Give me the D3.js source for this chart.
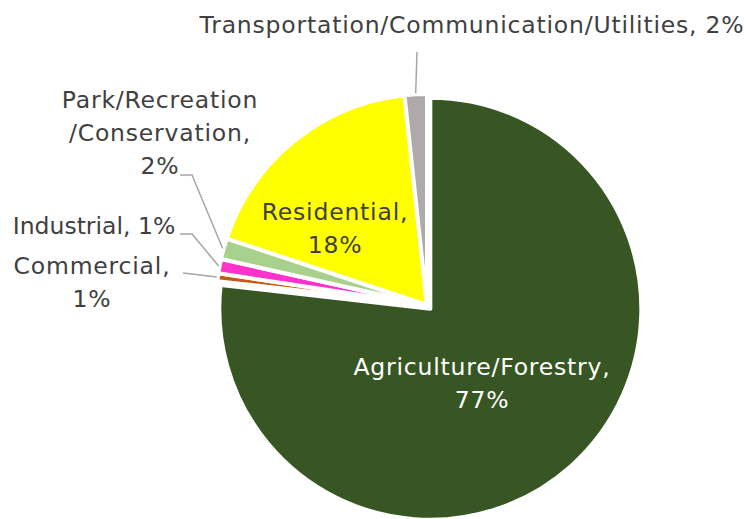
<!DOCTYPE html>
<html>
<head>
<meta charset="utf-8">
<script src="https://cdnjs.cloudflare.com/ajax/libs/d3/7.8.5/d3.min.js"></script>
<style>
  body { margin: 0; background: #fff; }
  text { font-family: "DejaVu Sans", sans-serif; font-size: 23.5px; letter-spacing: 0.8px; }
</style>
</head>
<body>
<div id="chart"></div>
<script>
var categories = ["Agriculture/Forestry", "Commercial", "Industrial", "Park/Recreation /Conservation", "Residential", "Transportation/Communication/Utilities"];
var values = [76.8, 0.6, 1.1, 1.6, 18.2, 1.7];
var percentLabels = ["77%", "1%", "1%", "2%", "18%", "2%"];
var colors = ["#375623", "#c55a11", "#ff33cc", "#a9d18e", "#ffff00", "#aeaaaa"];

(function() {
  var width = 750,
      height = 519,
      cx = 427,
      cy = 305,
      radius = 211;

  var svg = d3.select("#chart")
    .append("svg")
    .attr("width", width)
    .attr("height", height);

  var datapoints = categories.map(function(c, i) {
    return { name: c, value: values[i], pct: percentLabels[i], color: colors[i] };
  });

  var pie = d3.pie()
    .value(function(d) { return d.value; })
    .sort(null);

  var arc = d3.arc()
    .outerRadius(radius)
    .innerRadius(0);

  var slices = pie(datapoints);

  var pieHolder = svg.append("g")
    .attr("transform", "translate(" + cx + "," + cy + ")");

  // the big slice is pulled out a little
  function offset(d, i) {
    if (i !== 0) return "translate(0,0)";
    var a = (d.startAngle + d.endAngle) / 2;
    return "translate(" + (5 * Math.sin(a)) + "," + (-5 * Math.cos(a)) + ")";
  }

  pieHolder.selectAll(".arc")
    .data(slices)
    .enter().append("path")
    .attr("class", "arc")
    .attr("d", arc)
    .attr("transform", offset)
    .attr("fill", function(d) { return d.data.color; })
    .attr("stroke", "#fff")
    .attr("stroke-width", 4)
    .attr("stroke-linejoin", "round");

  function edgePoint(d, r) {
    var a = (d.startAngle + d.endAngle) / 2;
    return [cx + r * Math.sin(a), cy - r * Math.cos(a)];
  }

  // label layout: lines of text, anchor x, first baseline, leader elbow
  var labels = [
    { i: 0, lines: ["Agriculture/Forestry,", "77%"], x: 482, y: 375, fill: "#fff" },
    { i: 4, lines: ["Residential,", "18%"], x: 335, y: 220, fill: "#404040" },
    { i: 5, lines: ["Transportation/Communication/Utilities, 2%"], x: 472, y: 33, fill: "#404040",
      leader: [[417, 52]] },
    { i: 3, lines: ["Park/Recreation", "/Conservation,", "2%"], x: 160, y: 108, fill: "#404040",
      leader: [[180, 175], [192, 175]] },
    { i: 2, lines: ["Industrial, 1%"], x: 94, y: 234, fill: "#404040", spacing: 0,
      leader: [[180, 234], [192, 234]] },
    { i: 1, lines: ["Commercial,", "1%"], x: 92, y: 274, fill: "#404040",
      leader: [[183, 273]] }
  ];

  var line = d3.line();

  labels.forEach(function(l) {
    var t = svg.append("text")
      .attr("text-anchor", "middle")
      .attr("fill", l.fill);
    if (l.spacing !== undefined) t.style("letter-spacing", l.spacing + "px");
    l.lines.forEach(function(s, k) {
      t.append("tspan")
        .attr("x", l.x)
        .attr("y", l.y + k * 33)
        .text(s);
    });
    if (l.leader) {
      var pts = l.leader.concat([edgePoint(slices[l.i], radius + 1)]);
      svg.append("path")
        .attr("d", line(pts))
        .attr("fill", "none")
        .attr("stroke", "#a6a6a6")
        .attr("stroke-width", 1.5);
    }
  });
})();
</script>
</body>
</html>
